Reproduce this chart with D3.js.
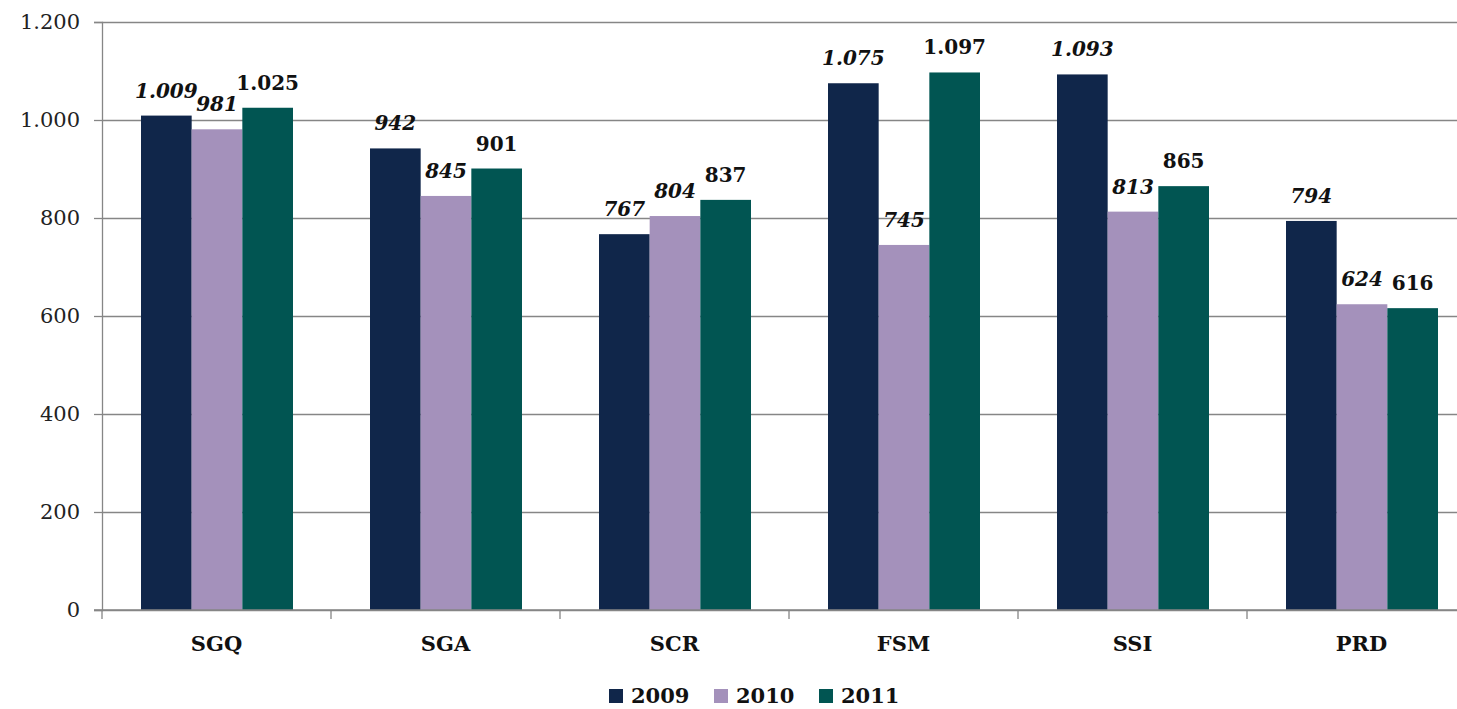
<!DOCTYPE html>
<html>
<head>
<meta charset="utf-8">
<script src="https://cdn.jsdelivr.net/npm/d3@7"></script>
<style>
  body { margin: 0; background: #fff; }
  svg { display: block; font-family: "DejaVu Serif", serif; }
</style>
</head>
<body>
<div id="chart"></div>
<script>
// data
var categories = ["SGQ", "SGA", "SCR", "FSM", "SSI", "PRD"];
var years = ["2009", "2010", "2011"];
var values2009 = [1009, 942, 767, 1075, 1093, 794];
var values2010 = [981, 845, 804, 745, 813, 624];
var values2011 = [1025, 901, 837, 1097, 865, 616];
var yTicks = [0, 200, 400, 600, 800, 1000, 1200];
var colors = ["#10264a", "#a491bb", "#015552"];

var series = [values2009, values2010, values2011];

var width = 1457, height = 709;
var plot = {left: 102, top: 22, bottom: 610, right: 1476};

var svg = d3.select("#chart").append("svg")
  .attr("width", width)
  .attr("height", height);

var x = d3.scaleBand().domain(categories).range([plot.left, plot.right]).paddingInner(0).paddingOuter(0);
var xSub = d3.scaleBand().domain(years).range([39, 191]);
var y = d3.scaleLinear().domain([0, 1200]).range([plot.bottom, plot.top]);

var fmt = function(d) { return d3.format(",")(d).replace(/,/g, "."); };

// gridlines
svg.append("g")
  .attr("transform", "translate(" + plot.left + ",0)")
  .call(d3.axisLeft(y).tickValues(yTicks).tickSize(-(plot.right - plot.left)).tickFormat(""))
  .call(function(g) {
    g.select(".domain").remove();
    g.selectAll("line").attr("stroke", "#868686").attr("stroke-width", 1.3);
  });

// y axis ticks + labels
svg.append("g")
  .attr("transform", "translate(" + plot.left + ",0)")
  .call(d3.axisLeft(y).tickValues(yTicks).tickSize(8).tickPadding(14).tickFormat(fmt))
  .call(function(g) {
    g.select(".domain").attr("stroke", "#868686").attr("stroke-width", 1.3);
    g.selectAll("line").attr("stroke", "#868686").attr("stroke-width", 1.3);
    g.selectAll("text").attr("fill", "#222").style("font-size", "21px").style("font-family", "DejaVu Serif");
  });

// bars
var rows = function(d, i) {
  return years.map(function(yr, j) { return {year: yr, value: series[j][i], j: j}; });
};

var groups = svg.append("g").selectAll("g")
  .data(categories)
  .join("g")
  .attr("transform", function(d) { return "translate(" + x(d) + ",0)"; });

groups.selectAll("rect")
  .data(rows)
  .join("rect")
  .attr("x", function(d) { return xSub(d.year); })
  .attr("y", function(d) { return y(d.value); })
  .attr("width", xSub.bandwidth())
  .attr("height", function(d) { return y(0) - y(d.value); })
  .attr("fill", function(d) { return colors[d.j]; });

groups.selectAll("text.val")
  .data(rows)
  .join("text")
  .attr("class", "val")
  .attr("x", function(d) { return xSub(d.year) + xSub.bandwidth() / 2; })
  .attr("y", function(d) { return y(d.value) - 18; })
  .attr("text-anchor", "middle")
  .attr("fill", "#111")
  .style("font-size", "20px")
  .style("font-weight", "bold")
  .style("font-style", function(d) { return d.j < 2 ? "italic" : "normal"; })
  .text(function(d) { return fmt(d.value); });

// x axis
svg.append("g")
  .attr("transform", "translate(0," + plot.bottom + ")")
  .call(d3.axisBottom(x).tickSize(0).tickPadding(26))
  .call(function(g) {
    g.select(".domain").attr("stroke", "#868686").attr("stroke-width", 1.3).attr("d", "M" + (plot.left - 8) + ",0H" + plot.right);
    g.selectAll("text").attr("fill", "#111").style("font-size", "21px").style("font-weight", "bold").style("font-family", "DejaVu Serif");
  });

// x separators
svg.append("g").selectAll("line")
  .data(categories.concat(["end"]))
  .join("line")
  .attr("x1", function(d, i) { return plot.left + i * x.bandwidth(); })
  .attr("x2", function(d, i) { return plot.left + i * x.bandwidth(); })
  .attr("y1", plot.bottom)
  .attr("y2", plot.bottom + 9)
  .attr("stroke", "#868686")
  .attr("stroke-width", 1.3);

// legend
var legendX = d3.scaleOrdinal().domain(years).range([609, 714, 819]);
var legend = svg.append("g").selectAll("g")
  .data(years)
  .join("g")
  .attr("transform", function(d) { return "translate(" + legendX(d) + ",689)"; });
legend.append("rect")
  .attr("width", 14).attr("height", 14)
  .attr("fill", function(d, i) { return colors[i]; });
legend.append("text")
  .attr("x", 22).attr("y", 14)
  .attr("fill", "#111")
  .style("font-size", "21px")
  .style("font-weight", "bold")
  .text(function(d) { return d; });
</script>
</body>
</html>
